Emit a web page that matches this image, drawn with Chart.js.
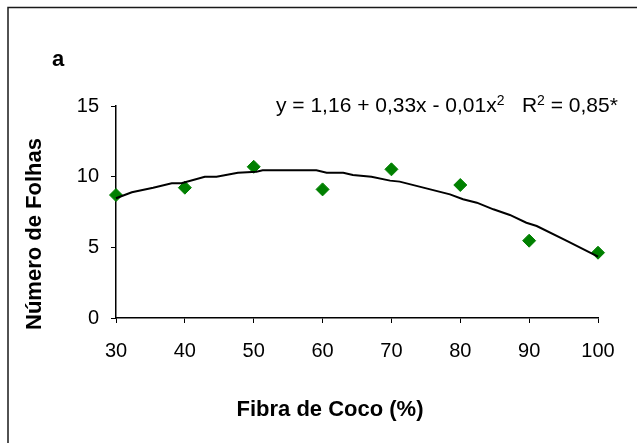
<!DOCTYPE html>
<html>
<head>
<meta charset="utf-8">
<script src="https://cdn.jsdelivr.net/npm/chart.js@4"></script>
<style>
  body { margin: 0; background: #fff; }
  #wrap { width: 637px; height: 443px; }
</style>
</head>
<body>
<div id="wrap"><canvas id="myChart" width="637" height="443"></canvas></div>
<script>
// fibra de coco (%) x numero de folhas
var fibraCoco = [30, 40, 50, 60, 70, 80, 90, 100];
var numeroFolhas = [8.70, 9.22, 10.70, 9.10, 10.52, 9.41, 5.47, 4.62];

// curva de tendencia (polinomial)
var curvaX = [30, 32.3, 35.4, 38.1, 39.5, 42.9, 44.6, 47.7, 50.4, 51.3, 59.1, 60.6, 63, 64.4, 67.1, 69.8, 71.2, 78.5, 80.4, 82.4, 84.8, 87.2, 89.6, 91.1, 95.4, 100];
var curvaY = [8.47, 8.90, 9.22, 9.53, 9.53, 10.0, 10.0, 10.28, 10.35, 10.45, 10.45, 10.28, 10.28, 10.12, 10.0, 9.72, 9.65, 8.75, 8.40, 8.16, 7.69, 7.29, 6.74, 6.51, 5.47, 4.34];

var yTicks = [0, 5, 10, 15];
var xTicks = [30, 40, 50, 60, 70, 80, 90, 100];

var FONT = '"Liberation Sans", Arial, sans-serif';

function pts(xs, ys) {
  return xs.map(function (x, i) { return { x: x, y: ys[i] }; });
}

// textos fixos: letra do painel, titulos dos eixos e equacao
var textos = {
  id: 'textos',
  beforeDraw: function (chart) {
    var c = chart.ctx;
    c.save();
    c.strokeStyle = '#1a1a1a';
    c.lineWidth = 1.5;
    c.beginPath();
    c.moveTo(8, chart.height);
    c.lineTo(8, 7.5);
    c.lineTo(chart.width, 7.5);
    c.stroke();
    c.restore();
  },
  afterDraw: function (chart) {
    var c = chart.ctx;
    c.save();
    c.fillStyle = '#000';
    c.textBaseline = 'alphabetic';

    c.font = 'bold 22px ' + FONT;
    c.textAlign = 'left';
    c.fillText('a', 52, 66);

    c.textAlign = 'center';
    c.textBaseline = 'middle';
    c.fillText('Fibra de Coco (%)', 330, 410);

    c.translate(35, 234);
    c.rotate(-Math.PI / 2);
    c.fillText('Número de Folhas', 0, 0);
    c.restore();

    // equacao com expoentes
    c.save();
    c.fillStyle = '#000';
    c.textAlign = 'left';
    c.textBaseline = 'alphabetic';
    var partes = [
      ['y = 1,16 + 0,33x - 0,01x', false],
      ['2', true],
      ['   R', false],
      ['2', true],
      [' = 0,85*', false]
    ];
    var x = 276, base = 112;
    partes.forEach(function (p) {
      c.font = (p[1] ? '14px ' : '21px ') + FONT;
      c.fillText(p[0], x, p[1] ? base - 7 : base);
      x += c.measureText(p[0]).width;
    });
    c.restore();
  }
};

var ctx = document.getElementById('myChart');

var myChart = new Chart(ctx, {
  type: 'scatter',
  data: {
    datasets: [{
      label: 'Tendência',
      data: pts(curvaX, curvaY),
      showLine: true,
      borderColor: '#000',
      borderWidth: 2,
      pointRadius: 0,
      tension: 0,
      clip: false,
      order: 0
    }, {
      label: 'Número de Folhas',
      data: pts(fibraCoco, numeroFolhas),
      pointStyle: 'rectRot',
      pointRadius: 6.5,
      backgroundColor: '#008000',
      borderColor: '#008000',
      borderWidth: 1,
      clip: false,
      order: 1
    }]
  },
  options: {
    responsive: false,
    animation: false,
    layout: { padding: { left: 0, top: 106, right: 39, bottom: 0 } },
    plugins: {
      legend: { display: false },
      tooltip: { enabled: false }
    },
    scales: {
      x: {
        type: 'linear',
        min: 30,
        max: 100,
        afterFit: function (s) { s.height = 125; },
        afterBuildTicks: function (s) { s.ticks = xTicks.map(function (v) { return { value: v }; }); },
        ticks: { color: '#000', font: { family: FONT, size: 20 }, padding: 16, maxRotation: 0 },
        grid: { drawOnChartArea: false, drawTicks: true, tickLength: 5, color: '#000', tickWidth: 1 },
        border: { color: '#000', width: 1.5 }
      },
      y: {
        min: 0,
        max: 15,
        afterFit: function (s) { s.width = 116; },
        afterBuildTicks: function (s) { s.ticks = yTicks.map(function (v) { return { value: v }; }); },
        ticks: { color: '#000', font: { family: FONT, size: 20 }, padding: 12 },
        grid: { drawOnChartArea: false, drawTicks: true, tickLength: 5, color: '#000', tickWidth: 1 },
        border: { color: '#000', width: 1.5 }
      }
    }
  },
  plugins: [textos]
});
</script>
</body>
</html>
